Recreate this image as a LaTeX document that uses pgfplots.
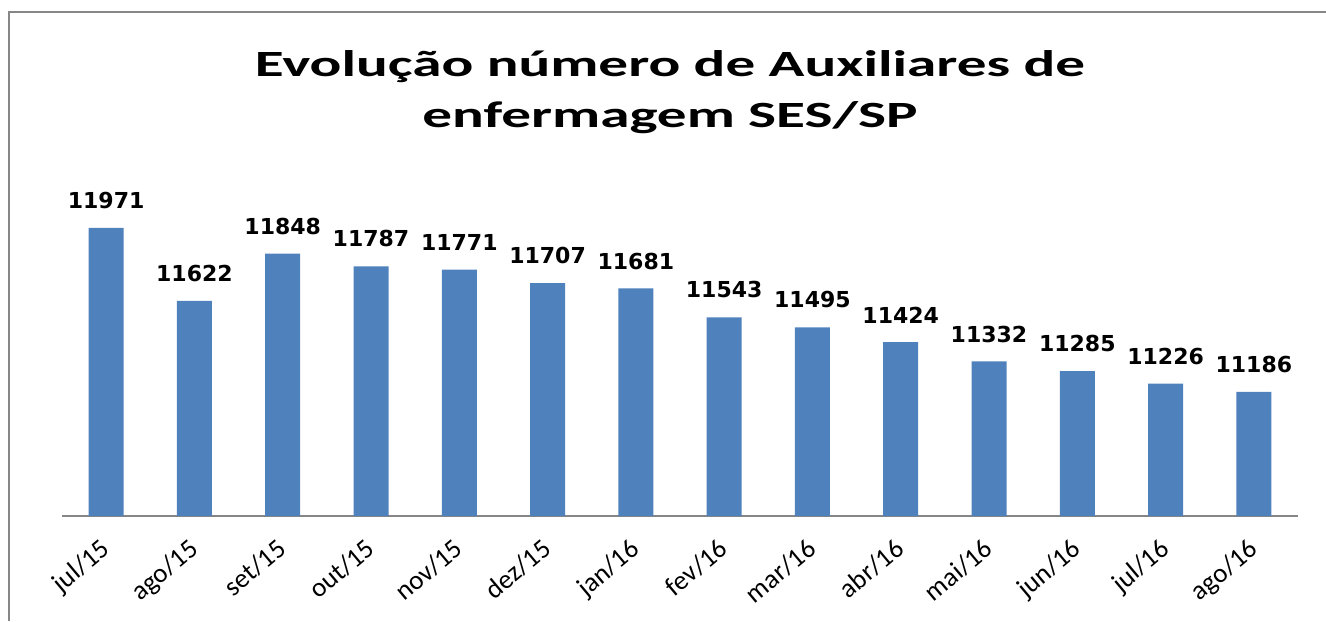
\documentclass[border=0pt]{standalone}
\usepackage{fontspec}
\setmainfont{Carlito}
\newfontfamily\labfont{DejaVu Sans}
\usepackage{pgfplots}
\pgfplotsset{compat=1.18}
\definecolor{barblue}{HTML}{4F81BD}
\definecolor{framegray}{HTML}{878787}
\definecolor{axgray}{HTML}{868686}

\begin{document}
\begin{tikzpicture}
\path[use as bounding box] (0,0) rectangle (663pt,310.5pt);
\draw[framegray,line width=1.2pt] (4.5pt,0) -- (4.5pt,304.5pt) -- (663pt,304.5pt);
\node[font=\fontsize{18.5}{20}\selectfont\bfseries,anchor=base,xscale=1.6] at (335pt,272pt) {Evolução número de Auxiliares de};
\node[font=\fontsize{18.5}{20}\selectfont\bfseries,anchor=base,xscale=1.6] at (335pt,246.5pt) {enfermagem SES/SP};
\begin{axis}[
  at={(31pt,52.5pt)}, anchor=south west,
  scale only axis, width=618pt, height=178pt,
  ybar, bar width=17.5pt,
  xmin=-0.5, xmax=13.5, ymin=10592, ymax=12296,
  axis x line=bottom, axis y line=none,
  axis line style={axgray,line width=0.6pt,-},
  xtick={0,...,13}, major tick length=0pt,
  xticklabels={jul/15,ago/15,set/15,out/15,nov/15,dez/15,jan/16,fev/16,mar/16,abr/16,mai/16,jun/16,jul/16,ago/16},
  xticklabel style={rotate=40,anchor=north east,font=\fontsize{13.5}{13.5}\selectfont,inner sep=0pt,xshift=-9.3pt,yshift=-5.7pt},
  /pgf/number format/assume math mode=true,
  /pgf/number format/1000 sep={},
  nodes near coords,
  every node near coord/.append style={font=\labfont\bfseries\fontsize{11}{11}\selectfont,anchor=south,yshift=6pt},
]
\addplot[fill=barblue,draw=none] coordinates {
  (0,11971) (1,11622) (2,11848) (3,11787) (4,11771) (5,11707) (6,11681)
  (7,11543) (8,11495) (9,11424) (10,11332) (11,11285) (12,11226) (13,11186)
};
\end{axis}
\end{tikzpicture}
\end{document}
